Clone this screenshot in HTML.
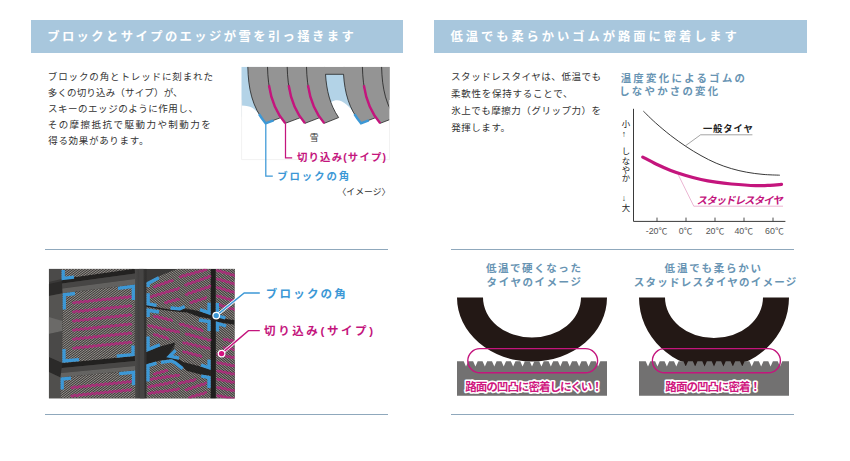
<!DOCTYPE html>
<html lang="ja">
<head>
<meta charset="utf-8">
<title>スタッドレスタイヤの特長</title>
<style>
html,body{margin:0;padding:0;background:#fff}
body{font-family:"Liberation Sans",sans-serif}
.page{position:relative;width:850px;height:461px;overflow:hidden;background:#fff}
.bar{position:absolute;top:20px;height:32.6px;background:#a8c7dd}
.rule{position:absolute;height:1px;background:#8fa8bc}
svg.art{position:absolute;left:0;top:0;display:block}
svg.art text{font-family:"Liberation Sans","Noto Sans CJK JP",sans-serif}
.tl{position:absolute;left:0;top:0;width:850px;height:461px}
.tl span{position:absolute;white-space:nowrap;line-height:1;color:transparent;overflow:hidden;font-family:"Liberation Sans",sans-serif}
.tl span.v{writing-mode:vertical-rl;white-space:normal;height:100px}
</style>
</head>
<body>
<div class="page">
<div class="bar" style="left:30.5px;width:372px"></div>
<div class="bar" style="left:434px;width:373px"></div>
<div class="rule" style="left:45.3px;width:342.3px;top:249px"></div>
<div class="rule" style="left:450.6px;width:343.4px;top:249px"></div>
<div class="rule" style="left:45.3px;width:342.3px;top:414px"></div>
<div class="rule" style="left:450.6px;width:343.4px;top:414px"></div>
<svg class="art" width="850" height="461" viewBox="0 0 850 461">
<clipPath id="tc"><rect x="241.3" y="66.8" width="148.5" height="92.8"/></clipPath>
<g clip-path="url(#tc)">
<rect x="241.3" y="66.8" width="30" height="50" fill="#b3d3e7"/>
<rect x="322" y="70" width="36" height="45" fill="#b3d3e7"/>
<path d="M241.3 105.6 C246 105.8 250.5 106.2 253 108.2 C255.5 110.2 257 112 259.5 114.6 L262 130 L241.3 130Z" fill="#fff"/>
<path d="M326 125 L331.5 101.8 C334 100.2 338 99.6 341.5 101.2 C345 102.8 348 105.6 350.6 108.6 L362 125Z" fill="#fff"/>
<path d="M247.8 66.8C248.3 88 251.8 107 265.6 123.3L280.94 117.57C270.73 102.6 267.94 85.56 267.5 66.8ZM267.5 66.8C268 88 271.5 107 285.3 123.3L300.64 117.57C290.43 102.6 287.64 85.56 287.2 66.8ZM287.2 66.8C287.7 88 291.2 107 305 123.3L319.94 117.57C309.73 102.6 306.94 85.56 306.5 66.8ZM306.5 66.8C307 88 310.5 107 324.3 123.3L338.64 117.57C328.43 102.6 325.64 85.56 325.2 66.8ZM343.2 66.8C343.7 88 347.2 107 361 123.3L375.84 117.57C365.63 102.6 362.84 85.56 362.4 66.8ZM362.4 66.8C362.9 88 366.4 107 380.2 123.3L395.04 117.57C384.83 102.6 382.04 85.56 381.6 66.8ZM381.6 66.8C382.1 88 385.6 107 399.4 123.3L414.44 117.57C404.23 102.6 401.44 85.56 401 66.8Z" fill="#949494"/>
<rect x="324" y="66.8" width="21" height="7.5" fill="#949494"/>
<path d="M247.8 66.8C248.3 88 251.8 107 265.6 123.3M267.5 66.8C268 88 271.5 107 285.3 123.3M287.2 66.8C287.7 88 291.2 107 305 123.3M306.5 66.8C307 88 310.5 107 324.3 123.3M325.52 74.3C326.53 90.12 329.81 104.62 338.64 117.57M343.52 74.3C344.68 92.5 348.85 108.95 361 123.3M362.4 66.8C362.9 88 366.4 107 380.2 123.3M381.6 66.8C382.1 88 385.6 107 399.4 123.3M265.6 123.3L280.94 117.57M285.3 123.3L300.64 117.57M305 123.3L319.94 117.57M324.3 123.3L338.64 117.57M361 123.3L375.84 117.57M380.2 123.3L395.04 117.57M399.4 123.3L414.44 117.57M325.52 74.3L343.52 74.3" fill="none" stroke="#1a1a1a" stroke-width="0.75"/>
<path d="M268.95 85.2C271.01 99.11 275.62 111.87 285.3 123.3M288.65 85.2C290.71 99.11 295.32 111.87 305 123.3M307.95 85.2C310.01 99.11 314.62 111.87 324.3 123.3M363.85 85.2C365.91 99.11 370.52 111.87 380.2 123.3" fill="none" stroke="#c4157d" stroke-width="2.4"/>
<path d="M259.08 114.2C260.95 117.32 263.11 120.35 265.6 123.3L273.58 120.32M354.48 114.2C356.35 117.32 358.51 120.35 361 123.3L368.72 120.32" fill="none" stroke="#3c98d6" stroke-width="2.5" stroke-linejoin="miter"/>
</g>
<path d="M241.6 100V159.6H389.5V100" fill="none" stroke="#ececec" stroke-width="0.7"/>
<path d="M265.8 123.3V176.2H272.8" fill="none" stroke="#3c98d6" stroke-width="1.25"/>
<path d="M285.5 123.3V157.8H292.2" fill="none" stroke="#c4157d" stroke-width="1.25"/>
<path d="M633.5 108.8V221.4H785.4" fill="none" stroke="#3a3a3a" stroke-width="1"/>
<path d="M657 217.6V221.4M686 217.6V221.4M715 217.6V221.4M744 217.6V221.4M773 217.6V221.4" fill="none" stroke="#3a3a3a" stroke-width="0.9"/>
<path d="M643.4 111.2C645.42 113.13 650.95 118.75 655.5 122.8C660.05 126.85 665.63 131.57 670.7 135.5C675.77 139.43 680.85 143.05 685.9 146.4C690.95 149.75 695.95 152.8 701 155.6C706.05 158.4 711.13 161.03 716.2 163.2C721.27 165.37 726.33 167.1 731.4 168.6C736.47 170.1 741.33 171.23 746.6 172.2C751.87 173.17 757.47 173.9 763 174.4C768.53 174.9 777 175.07 779.8 175.2" fill="none" stroke="#222" stroke-width="0.9"/>
<path d="M752.4 134.8H700.6L685.3 145.9" fill="none" stroke="#666" stroke-width="0.6"/>
<path d="M783 206.2H693.8L678.2 174.6" fill="none" stroke="#e6a3c8" stroke-width="0.8"/>
<path d="M642.8 157.1C645 158.25 651.35 161.78 656 164C660.65 166.22 665.87 168.53 670.7 170.4C675.53 172.27 679.95 173.68 685 175.2C690.05 176.72 695.83 178.33 701 179.5C706.17 180.67 710.93 181.45 716 182.2C721.07 182.95 724.78 183.43 731.4 184C738.02 184.57 749.27 185.38 755.7 185.6C762.13 185.82 765.7 185.5 770 185.3C774.3 185.1 779.58 184.55 781.5 184.4" fill="none" stroke="#c4157d" stroke-width="3.2" stroke-linecap="round"/>
<defs><clipPath id="pc"><rect x="48.8" y="268.8" width="186" height="129.7"/></clipPath><linearGradient id="pg" x1="0" y1="0" x2="1" y2="0"><stop offset="0" stop-color="#4a4948"/><stop offset="1" stop-color="#2f2e2d"/></linearGradient></defs>
<g clip-path="url(#pc)">
<rect x="48.8" y="268.8" width="186" height="129.7" fill="#3a3938"/>
<polygon points="48.8,268.8 61.5,268.8 61.5,279 48.8,282" fill="#4b4a49"/>
<polygon points="48.8,284 62.6,281 62.6,293.2 48.8,296" fill="#2c2b2a"/>
<polygon points="48.8,296 62.6,293.2 62.3,363 48.8,357" fill="#555452"/>
<polygon points="48.8,317 62.4,321 62.4,331 48.8,334" fill="#6b6a68"/>
<polygon points="48.8,334 62.4,331 62.3,363 48.8,357" fill="#4a4948"/>
<polygon points="48.8,357 62.3,363 60.5,377.4 48.8,372" fill="#2b2a29"/>
<polygon points="48.8,372 60.5,377.4 60.5,398.5 48.8,398.5" fill="#504f4d"/>
<polygon points="61.5,279 134.4,268.8 135,273.5 62,283.5" fill="#232221"/>
<polygon points="62,283.5 135,273.5 135,279 62.3,288.5" fill="#474645"/>
<polygon points="62.3,288.5 135,279 135,284.4 62.6,293.2" fill="#62615f"/>
<polygon points="62.3,362.9 134.6,356.1 135,361 61.8,368" fill="#222120"/>
<polygon points="61.8,368 135,361 135,366 61,373" fill="#484746"/>
<polygon points="61,373 135,366 135.2,370.3 60.5,377.4" fill="#646361"/>
<rect x="135" y="268.8" width="11.6" height="130" fill="url(#pg)"/>
<polygon points="139,268.8 143.5,268.8 144.5,398.5 140,398.5" fill="#464544"/>
<rect x="210.6" y="268.8" width="5.2" height="130" fill="#1f1e1d"/>
<polygon points="146.5,305 210.6,312 234.8,319 234.8,329 210.6,320 146.5,308.5" fill="#222120"/>
<polygon points="146.5,349.7 175.3,342.4 167.6,356.8 210.6,368 210.6,377 146.5,365.6" fill="#242322"/>
<clipPath id="hc1"><polygon points="61.5,268.8 134.4,268.8 61.5,278.9" fill="#000"/><polygon points="62.6,293.2 135,284.4 134.6,356.1 62.3,362.9" fill="#000"/><polygon points="60.5,377.4 135.2,370.3 135.2,398.5 60.5,398.5" fill="#000"/></clipPath>
<polygon points="61.5,268.8 134.4,268.8 61.5,278.9" fill="#413f3d"/>
<polygon points="62.6,293.2 135,284.4 134.6,356.1 62.3,362.9" fill="#413f3d"/>
<polygon points="60.5,377.4 135.2,370.3 135.2,398.5 60.5,398.5" fill="#413f3d"/>
<g clip-path="url(#hc1)"><path d="M-36.02 305.37L163.63 154.92M-34.94 306.81L164.72 156.36M-33.86 308.25L165.8 157.8M-32.77 309.69L166.88 159.23M-31.69 311.12L167.97 160.67M-30.61 312.56L169.05 162.11M-29.53 314L170.13 163.55M-28.44 315.44L171.22 164.98M-27.36 316.87L172.3 166.42M-26.28 318.31L173.38 167.86M-25.19 319.75L174.47 169.3M-24.11 321.19L175.55 170.73M-23.03 322.62L176.63 172.17M-21.94 324.06L177.72 173.61M-20.86 325.5L178.8 175.05M-19.78 326.94L179.88 176.48M-18.69 328.37L180.97 177.92M-17.61 329.81L182.05 179.36M-16.53 331.25L183.13 180.8M-15.44 332.69L184.22 182.23M-14.36 334.12L185.3 183.67M-13.28 335.56L186.38 185.11M-12.19 337L187.47 186.55M-11.11 338.44L188.55 187.98M-10.03 339.87L189.63 189.42M-8.94 341.31L190.72 190.86M-7.86 342.75L191.8 192.3M-6.78 344.19L192.88 193.73M-5.69 345.62L193.97 195.17M-4.61 347.06L195.05 196.61M-3.53 348.5L196.13 198.05M-2.44 349.94L197.22 199.48M-1.36 351.38L198.3 200.92M-0.28 352.81L199.38 202.36M0.81 354.25L200.47 203.8M1.89 355.69L201.55 205.23M2.97 357.13L202.63 206.67M4.06 358.56L203.72 208.11M5.14 360L204.8 209.55M6.22 361.44L205.88 210.98M7.31 362.88L206.96 212.42M8.39 364.31L208.05 213.86M9.47 365.75L209.13 215.3M10.56 367.19L210.21 216.73M11.64 368.63L211.3 218.17M12.72 370.06L212.38 219.61M13.81 371.5L213.46 221.05M14.89 372.94L214.55 222.48M15.97 374.38L215.63 223.92M17.06 375.81L216.71 225.36M18.14 377.25L217.8 226.8M19.22 378.69L218.88 228.23M20.31 380.13L219.96 229.67M21.39 381.56L221.05 231.11M22.47 383L222.13 232.55M23.56 384.44L223.21 233.98M24.64 385.88L224.3 235.42M25.72 387.31L225.38 236.86M26.8 388.75L226.46 238.3M27.89 390.19L227.55 239.74M28.97 391.63L228.63 241.17M30.05 393.06L229.71 242.61M31.14 394.5L230.8 244.05M32.22 395.94L231.88 245.49M33.3 397.38L232.96 246.92M34.39 398.81L234.05 248.36M35.47 400.25L235.13 249.8M36.55 401.69L236.21 251.24M37.64 403.13L237.3 252.67M38.72 404.56L238.38 254.11M39.8 406L239.46 255.55M40.89 407.44L240.55 256.99M41.97 408.88L241.63 258.42M43.05 410.31L242.71 259.86M44.14 411.75L243.8 261.3M45.22 413.19L244.88 262.74M46.3 414.63L245.96 264.17M47.39 416.06L247.05 265.61M48.47 417.5L248.13 267.05M49.55 418.94L249.21 268.49M50.64 420.38L250.3 269.92M51.72 421.81L251.38 271.36M52.8 423.25L252.46 272.8M53.89 424.69L253.55 274.24M54.97 426.13L254.63 275.67M56.05 427.56L255.71 277.11M57.14 429L256.8 278.55M58.22 430.44L257.88 279.99M59.3 431.88L258.96 281.42M60.39 433.32L260.04 282.86M61.47 434.75L261.13 284.3M62.55 436.19L262.21 285.74M63.64 437.63L263.29 287.17M64.72 439.07L264.38 288.61M65.8 440.5L265.46 290.05M66.89 441.94L266.54 291.49M67.97 443.38L267.63 292.92M69.05 444.82L268.71 294.36M70.14 446.25L269.79 295.8M71.22 447.69L270.88 297.24M72.3 449.13L271.96 298.67M73.39 450.57L273.04 300.11M74.47 452L274.13 301.55M75.55 453.44L275.21 302.99M76.64 454.88L276.29 304.42M77.72 456.32L277.38 305.86M78.8 457.75L278.46 307.3M79.88 459.19L279.54 308.74M80.97 460.63L280.63 310.17M82.05 462.07L281.71 311.61M83.13 463.5L282.79 313.05M84.22 464.94L283.88 314.49M85.3 466.38L284.96 315.92M86.38 467.82L286.04 317.36M87.47 469.25L287.13 318.8M88.55 470.69L288.21 320.24M89.63 472.13L289.29 321.68M90.72 473.57L290.38 323.11M91.8 475L291.46 324.55M92.88 476.44L292.54 325.99M93.97 477.88L293.63 327.43M95.05 479.32L294.71 328.86M96.13 480.75L295.79 330.3M97.22 482.19L296.88 331.74M98.3 483.63L297.96 333.18M99.38 485.07L299.04 334.61M100.47 486.5L300.13 336.05M101.55 487.94L301.21 337.49M102.63 489.38L302.29 338.93M103.72 490.82L303.38 340.36M104.8 492.25L304.46 341.8M105.88 493.69L305.54 343.24M106.97 495.13L306.63 344.68M108.05 496.57L307.71 346.11M109.13 498L308.79 347.55M110.22 499.44L309.88 348.99M111.3 500.88L310.96 350.43M112.38 502.32L312.04 351.86M113.47 503.75L313.13 353.3M114.55 505.19L314.21 354.74M115.63 506.63L315.29 356.18M116.72 508.07L316.37 357.61M117.8 509.5L317.46 359.05M118.88 510.94L318.54 360.49M119.97 512.38L319.62 361.93" fill="none" stroke="#a5a19c" stroke-width="0.86"/></g>
<clipPath id="hc2"><polygon points="146.5,282.6 158.8,276.2 177.6,268.8 210.6,268.8 210.6,314.8 198.8,310.9 185.3,307.9 180,310.3 170.6,309.5 163.5,308.5 146.5,305" fill="#000"/><polygon points="146.5,306.8 165,310.2 180,312 187,312.4 198.8,316.8 210.6,318.8 210.6,369.6 200.7,366.6 192,364.3 183.4,362.1 179,359.4 167.1,356.7 174,349.5 175.2,342.6 159.5,346.6 146.5,351.8" fill="#000"/><polygon points="146.5,364.3 160.6,360.5 171.4,359.2 175.8,361.4 183.4,367.5 186.6,370.8 200.7,374.4 210.6,375.8 210.6,398.5 146.5,398.5" fill="#000"/><polygon points="215.8,268.8 234.8,268.8 234.8,320.3 215.8,317.2" fill="#000"/><polygon points="215.9,321.7 234.8,324.7 234.8,398.5 215.9,398.5" fill="#000"/></clipPath>
<polygon points="146.5,282.6 158.8,276.2 177.6,268.8 210.6,268.8 210.6,314.8 198.8,310.9 185.3,307.9 180,310.3 170.6,309.5 163.5,308.5 146.5,305" fill="#413f3d"/>
<polygon points="146.5,306.8 165,310.2 180,312 187,312.4 198.8,316.8 210.6,318.8 210.6,369.6 200.7,366.6 192,364.3 183.4,362.1 179,359.4 167.1,356.7 174,349.5 175.2,342.6 159.5,346.6 146.5,351.8" fill="#413f3d"/>
<polygon points="146.5,364.3 160.6,360.5 171.4,359.2 175.8,361.4 183.4,367.5 186.6,370.8 200.7,374.4 210.6,375.8 210.6,398.5 146.5,398.5" fill="#413f3d"/>
<polygon points="215.8,268.8 234.8,268.8 234.8,320.3 215.8,317.2" fill="#413f3d"/>
<polygon points="215.9,321.7 234.8,324.7 234.8,398.5 215.9,398.5" fill="#413f3d"/>
<g clip-path="url(#hc2)"><path d="M129.35 154.02L320.86 314.72M128.19 155.4L319.7 316.1M127.04 156.78L318.55 317.48M125.88 158.16L317.39 318.86M124.72 159.54L316.23 320.23M123.56 160.92L315.08 321.61M122.41 162.3L313.92 322.99M121.25 163.67L312.76 324.37M120.09 165.05L311.6 325.75M118.94 166.43L310.45 327.13M117.78 167.81L309.29 328.51M116.62 169.19L308.13 329.89M115.47 170.57L306.98 331.27M114.31 171.95L305.82 332.64M113.15 173.33L304.66 334.02M111.99 174.71L303.51 335.4M110.84 176.08L302.35 336.78M109.68 177.46L301.19 338.16M108.52 178.84L300.03 339.54M107.37 180.22L298.88 340.92M106.21 181.6L297.72 342.3M105.05 182.98L296.56 343.68M103.9 184.36L295.41 345.05M102.74 185.74L294.25 346.43M101.58 187.12L293.09 347.81M100.42 188.49L291.94 349.19M99.27 189.87L290.78 350.57M98.11 191.25L289.62 351.95M96.95 192.63L288.46 353.33M95.8 194.01L287.31 354.71M94.64 195.39L286.15 356.09M93.48 196.77L284.99 357.46M92.33 198.15L283.84 358.84M91.17 199.53L282.68 360.22M90.01 200.9L281.52 361.6M88.85 202.28L280.37 362.98M87.7 203.66L279.21 364.36M86.54 205.04L278.05 365.74M85.38 206.42L276.89 367.12M84.23 207.8L275.74 368.5M83.07 209.18L274.58 369.87M81.91 210.56L273.42 371.25M80.75 211.94L272.27 372.63M79.6 213.31L271.11 374.01M78.44 214.69L269.95 375.39M77.28 216.07L268.8 376.77M76.13 217.45L267.64 378.15M74.97 218.83L266.48 379.53M73.81 220.21L265.32 380.91M72.66 221.59L264.17 382.28M71.5 222.97L263.01 383.66M70.34 224.35L261.85 385.04M69.18 225.72L260.7 386.42M68.03 227.1L259.54 387.8M66.87 228.48L258.38 389.18M65.71 229.86L257.22 390.56M64.56 231.24L256.07 391.94M63.4 232.62L254.91 393.32M62.24 234L253.75 394.69M61.09 235.38L252.6 396.07M59.93 236.75L251.44 397.45M58.77 238.13L250.28 398.83M57.61 239.51L249.13 400.21M56.46 240.89L247.97 401.59M55.3 242.27L246.81 402.97M54.14 243.65L245.65 404.35M52.99 245.03L244.5 405.73M51.83 246.41L243.34 407.1M50.67 247.79L242.18 408.48M49.52 249.16L241.03 409.86M48.36 250.54L239.87 411.24M47.2 251.92L238.71 412.62M46.04 253.3L237.56 414M44.89 254.68L236.4 415.38M43.73 256.06L235.24 416.76M42.57 257.44L234.08 418.14M41.42 258.82L232.93 419.51M40.26 260.2L231.77 420.89M39.1 261.57L230.61 422.27M37.95 262.95L229.46 423.65M36.79 264.33L228.3 425.03M35.63 265.71L227.14 426.41M34.47 267.09L225.99 427.79M33.32 268.47L224.83 429.17M32.16 269.85L223.67 430.55M31 271.23L222.51 431.92M29.85 272.61L221.36 433.3M28.69 273.98L220.2 434.68M27.53 275.36L219.04 436.06M26.38 276.74L217.89 437.44M25.22 278.12L216.73 438.82M24.06 279.5L215.57 440.2M22.9 280.88L214.42 441.58M21.75 282.26L213.26 442.95M20.59 283.64L212.1 444.33M19.43 285.02L210.94 445.71M18.28 286.39L209.79 447.09M17.12 287.77L208.63 448.47M15.96 289.15L207.47 449.85M14.8 290.53L206.32 451.23M13.65 291.91L205.16 452.61M12.49 293.29L204 453.99M11.33 294.67L202.85 455.36M10.18 296.05L201.69 456.74M9.02 297.43L200.53 458.12M7.86 298.8L199.37 459.5M6.71 300.18L198.22 460.88M5.55 301.56L197.06 462.26M4.39 302.94L195.9 463.64M3.23 304.32L194.75 465.02M2.08 305.7L193.59 466.4M0.92 307.08L192.43 467.77M-0.24 308.46L191.27 469.15M-1.39 309.84L190.12 470.53M-2.55 311.21L188.96 471.91M-3.71 312.59L187.8 473.29M-4.86 313.97L186.65 474.67M-6.02 315.35L185.49 476.05M-7.18 316.73L184.33 477.43M-8.34 318.11L183.18 478.81M-9.49 319.49L182.02 480.18M-10.65 320.87L180.86 481.56M-11.81 322.25L179.7 482.94M-12.96 323.62L178.55 484.32M-14.12 325L177.39 485.7M-15.28 326.38L176.23 487.08M-16.43 327.76L175.08 488.46M-17.59 329.14L173.92 489.84M-18.75 330.52L172.76 491.22M-19.91 331.9L171.61 492.59M-21.06 333.28L170.45 493.97M-22.22 334.66L169.29 495.35M-23.38 336.03L168.13 496.73M-24.53 337.41L166.98 498.11M-25.69 338.79L165.82 499.49M-26.85 340.17L164.66 500.87M-28 341.55L163.51 502.25M-29.16 342.93L162.35 503.63M-30.32 344.31L161.19 505M-31.48 345.69L160.04 506.38M-32.63 347.07L158.88 507.76M-33.79 348.44L157.72 509.14M-34.95 349.82L156.56 510.52M-36.1 351.2L155.41 511.9M-37.26 352.58L154.25 513.28" fill="none" stroke="#a5a19c" stroke-width="0.86"/></g>
<path d="M73.3 302.7L74.47 303.13L75.52 302.44L76.57 301.81L77.74 302.29L78.9 302.67L79.95 301.93L81.01 301.35L82.19 301.87L83.34 302.2L84.38 301.43L85.45 300.9L86.63 301.46L87.78 301.72L88.82 300.92L89.89 300.45L91.07 301.04L92.22 301.25L93.25 300.41L94.33 300.01L95.52 300.63L96.65 300.77L97.68 299.9L98.77 299.57L99.96 300.21L101.09 300.28L102.12 299.4L103.21 299.13L104.4 299.79L105.52 299.79L106.55 298.9L107.65 298.7L108.84 299.37L109.96 299.3L110.99 298.4L112.1 298.27L113.29 298.94L114.39 298.8L115.42 297.91L116.54 297.85L117.73 298.51L118.83 298.3L119.86 297.41L120.98 297.42L122.17 298.08L123.26 297.8L124.29 296.92L125.42 297L126.61 297.64L127.7 297.3L128.73 296.44L129.87 296.58L131.05 297.2M73.3 311.8L74.47 312.23L75.52 311.54L76.57 310.91L77.74 311.39L78.9 311.77L79.95 311.03L81.01 310.45L82.19 310.97L83.34 311.3L84.38 310.53L85.45 310L86.63 310.56L87.78 310.82L88.82 310.02L89.89 309.55L91.07 310.14L92.22 310.35L93.25 309.51L94.33 309.11L95.52 309.73L96.65 309.87L97.68 309L98.77 308.67L99.96 309.31L101.09 309.38L102.12 308.5L103.21 308.23L104.4 308.89L105.52 308.89L106.55 308L107.65 307.8L108.84 308.47L109.96 308.4L110.99 307.5L112.1 307.37L113.29 308.04L114.39 307.9L115.42 307.01L116.54 306.95L117.73 307.61L118.83 307.4L119.86 306.51L120.98 306.52L122.17 307.18L123.26 306.9L124.29 306.02L125.42 306.1L126.61 306.74L127.7 306.4L128.73 305.54L129.87 305.68L131.05 306.3M73.3 320.9L74.47 321.33L75.52 320.64L76.57 320.01L77.74 320.49L78.9 320.87L79.95 320.13L81.01 319.55L82.19 320.07L83.34 320.4L84.38 319.63L85.45 319.1L86.63 319.66L87.78 319.92L88.82 319.12L89.89 318.65L91.07 319.24L92.22 319.45L93.25 318.61L94.33 318.21L95.52 318.83L96.65 318.97L97.68 318.1L98.77 317.77L99.96 318.41L101.09 318.48L102.12 317.6L103.21 317.33L104.4 317.99L105.52 317.99L106.55 317.1L107.65 316.9L108.84 317.57L109.96 317.5L110.99 316.6L112.1 316.47L113.29 317.14L114.39 317L115.42 316.11L116.54 316.05L117.73 316.71L118.83 316.5L119.86 315.61L120.98 315.62L122.17 316.28L123.26 316L124.29 315.12L125.42 315.2L126.61 315.84L127.7 315.5L128.73 314.64L129.87 314.78L131.05 315.4M73.3 330L74.47 330.43L75.52 329.74L76.57 329.11L77.74 329.59L78.9 329.97L79.95 329.23L81.01 328.65L82.19 329.17L83.34 329.5L84.38 328.73L85.45 328.2L86.63 328.76L87.78 329.02L88.82 328.22L89.89 327.75L91.07 328.34L92.22 328.55L93.25 327.71L94.33 327.31L95.52 327.93L96.65 328.07L97.68 327.2L98.77 326.87L99.96 327.51L101.09 327.58L102.12 326.7L103.21 326.43L104.4 327.09L105.52 327.09L106.55 326.2L107.65 326L108.84 326.67L109.96 326.6L110.99 325.7L112.1 325.57L113.29 326.24L114.39 326.1L115.42 325.21L116.54 325.15L117.73 325.81L118.83 325.6L119.86 324.71L120.98 324.72L122.17 325.38L123.26 325.1L124.29 324.22L125.42 324.3L126.61 324.94L127.7 324.6L128.73 323.74L129.87 323.88L131.05 324.5M73.3 339.1L74.47 339.53L75.52 338.84L76.57 338.21L77.74 338.69L78.9 339.07L79.95 338.33L81.01 337.75L82.19 338.27L83.34 338.6L84.38 337.83L85.45 337.3L86.63 337.86L87.78 338.12L88.82 337.32L89.89 336.85L91.07 337.44L92.22 337.65L93.25 336.81L94.33 336.41L95.52 337.03L96.65 337.17L97.68 336.3L98.77 335.97L99.96 336.61L101.09 336.68L102.12 335.8L103.21 335.53L104.4 336.19L105.52 336.19L106.55 335.3L107.65 335.1L108.84 335.77L109.96 335.7L110.99 334.8L112.1 334.67L113.29 335.34L114.39 335.2L115.42 334.31L116.54 334.25L117.73 334.91L118.83 334.7L119.86 333.81L120.98 333.82L122.17 334.48L123.26 334.2L124.29 333.32L125.42 333.4L126.61 334.04L127.7 333.7L128.73 332.84L129.87 332.98L131.05 333.6M73.3 348.2L74.47 348.63L75.52 347.94L76.57 347.31L77.74 347.79L78.9 348.17L79.95 347.43L81.01 346.85L82.19 347.37L83.34 347.7L84.38 346.93L85.45 346.4L86.63 346.96L87.78 347.22L88.82 346.42L89.89 345.95L91.07 346.54L92.22 346.75L93.25 345.91L94.33 345.51L95.52 346.13L96.65 346.27L97.68 345.4L98.77 345.07L99.96 345.71L101.09 345.78L102.12 344.9L103.21 344.63L104.4 345.29L105.52 345.29L106.55 344.4L107.65 344.2L108.84 344.87L109.96 344.8L110.99 343.9L112.1 343.77L113.29 344.44L114.39 344.3L115.42 343.41L116.54 343.35L117.73 344.01L118.83 343.8L119.86 342.91L120.98 342.92L122.17 343.58L123.26 343.3L124.29 342.42L125.42 342.5L126.61 343.14L127.7 342.8L128.73 341.94L129.87 342.08L131.05 342.7M71.6 387.6L72.76 388.04L73.8 387.37L74.84 386.72L76 387.17L77.16 387.59L78.2 386.91L79.24 386.28L80.4 386.75L81.56 387.15L82.6 386.45L83.64 385.83L84.81 386.32L85.95 386.7L86.99 385.98L88.05 385.39L89.21 385.89L90.35 386.25L91.39 385.52L92.45 384.95L93.61 385.46L94.75 385.81L95.79 385.06L96.85 384.51L98.01 385.04L99.15 385.36L100.19 384.6L101.25 384.07L102.41 384.61L103.55 384.91L104.59 384.14L105.65 383.63L106.81 384.18L107.95 384.46L108.99 383.68L110.05 383.19L111.22 383.76L112.35 384.01L113.38 383.21L114.45 382.75L115.62 383.33L116.75 383.56L117.78 382.75L118.85 382.31L120.02 382.9L121.15 383.11L122.18 382.29L123.25 381.87L124.42 382.47L125.55 382.66L126.58 381.83L127.65 381.43L128.82 382.04L129.95 382.21L130.98 381.37M71.6 395.8L72.76 396.24L73.8 395.57L74.84 394.92L76 395.37L77.16 395.79L78.2 395.11L79.24 394.48L80.4 394.95L81.56 395.35L82.6 394.65L83.64 394.03L84.81 394.52L85.95 394.9L86.99 394.18L88.05 393.59L89.21 394.09L90.35 394.45L91.39 393.72L92.45 393.15L93.61 393.66L94.75 394.01L95.79 393.26L96.85 392.71L98.01 393.24L99.15 393.56L100.19 392.8L101.25 392.27L102.41 392.81L103.55 393.11L104.59 392.34L105.65 391.83L106.81 392.38L107.95 392.66L108.99 391.88L110.05 391.39L111.22 391.96L112.35 392.21L113.38 391.41L114.45 390.95L115.62 391.53L116.75 391.76L117.78 390.95L118.85 390.51L120.02 391.1L121.15 391.31L122.18 390.49L123.25 390.07L124.42 390.67L125.55 390.86L126.58 390.03L127.65 389.63L128.82 390.24L129.95 390.41L130.98 389.57M180 276.8L181.22 277.03L182.15 276.18L183.09 275.38L184.33 275.67L185.54 275.85L186.45 274.94L187.41 274.21L188.66 274.55L189.85 274.65L190.75 273.7L191.73 273.04L193 273.42L194.17 273.45L195.05 272.46L196.05 271.88L197.33 272.29L198.48 272.25L199.36 271.23L200.38 270.72L201.66 271.16L202.78 271.03L203.66 269.99L204.7 269.57L205.99 270.02M154.1 286.8L155.36 286.93L156.23 285.97L157.15 285.14L158.45 285.39L159.66 285.38L160.49 284.32L161.47 283.65L162.8 283.98L163.95 283.8L164.76 282.68L165.8 282.19L167.14 282.56L168.22 282.2L169.03 281.06L170.13 280.75L171.48 281.11L172.5 280.57M185.3 285L186.56 285.14L187.44 284.19L188.37 283.37L189.68 283.64L190.88 283.62L191.73 282.56L192.72 281.92L194.05 282.27L195.19 282.07L196.02 280.95L197.07 280.49L198.42 280.88L199.49 280.49L200.32 279.36L201.44 279.1L202.78 279.46L203.79 278.88L204.62 277.79L205.81 277.72L207.12 278.02L208.07 277.26L208.94 276.26L210.19 276.36M150.6 296.8L151.84 297.01L152.76 296.12L153.7 295.32L154.97 295.61L156.17 295.72L157.07 294.75L158.04 294.06L159.33 294.43L160.5 294.41L161.38 293.38L162.39 292.82L163.69 293.23L164.83 293.09L165.7 292.03L166.75 291.59L168.05 292.03L169.15 291.76L170.01 290.68L171.1 290.38L172.41 290.82L173.47 290.42L174.33 289.34L175.46 289.18L176.77 289.6L177.79 289.06L178.66 288.02M185.9 294.4L187.13 294.57L188.01 293.69L188.9 292.83L190.14 293.05L191.35 293.18L192.22 292.26L193.12 291.45L194.38 291.69L195.58 291.79L196.44 290.83L197.35 290.06L198.61 290.34L199.8 290.39L200.65 289.4L201.58 288.68L202.85 288.98L204.03 288.99L204.86 287.98L205.81 287.3L207.09 287.62L208.25 287.58L209.08 286.55L210.04 285.92M165.3 302.6L166.56 302.84L167.53 301.92L168.54 301.21L169.85 301.62L171.05 301.62L171.98 300.58L173.06 300.13L174.39 300.61L175.52 300.35L176.44 299.27L177.6 299.09L178.92 299.57M190.6 302.6L191.85 302.79L192.77 301.86L193.72 301.08L195.01 301.39L196.22 301.42L197.1 300.4L198.1 299.77L199.42 300.16L200.57 300.03L201.44 298.94L202.5 298.5L203.82 298.93L204.92 298.6L205.78 297.5M154.1 316.2L155.08 316.99L156.33 316.66L157.54 316.44L158.5 317.33L159.51 318L160.77 317.58L161.96 317.49L162.9 318.46L163.94 318.99L165.22 318.5L166.37 318.56L167.3 319.58L168.38 319.95L169.67 319.44L170.78 319.66L171.71 320.69M148.6 325.6L149.56 326.37L150.76 326.06L151.95 325.76L152.91 326.54L153.88 327.3L155.07 326.98L156.27 326.69L157.22 327.48L158.19 328.23L159.39 327.9L160.58 327.62L161.54 328.42L162.51 329.15L163.71 328.81L164.89 328.55L165.85 329.35L166.82 330.08L168.02 329.73L169.21 329.48L170.16 330.29L171.13 331.01L172.34 330.65L173.52 330.4L174.47 331.23L175.45 331.94L176.66 331.57L177.84 331.33L178.78 332.17M180 323.8L180.91 324.64L182.14 324.4L183.35 324.2L184.26 325.07L185.18 325.87L186.41 325.61L187.62 325.44L188.51 326.34L189.45 327.11L190.69 326.82L191.88 326.68L192.77 327.61L193.72 328.34L194.97 328.02L196.15 327.93L197.03 328.88L197.99 329.57L199.24 329.23L200.41 329.17L201.29 330.15L202.25 330.8M154.1 334.4L155.03 335.24L156.28 334.99L157.51 334.82L158.41 335.75L159.37 336.49L160.65 336.16L161.84 336.1L162.73 337.1L163.72 337.73L165.01 337.34L166.17 337.4L167.04 338.44L168.07 338.95M185.9 333.8L186.86 334.63L188.13 334.33L189.35 334.16L190.28 335.11L191.29 335.78L192.58 335.38L193.76 335.39L194.67 336.42L195.72 336.91L197.03 336.45L198.16 336.64L199.06 337.71L200.16 338.01L201.47 337.53L202.55 337.91L203.45 338.97L204.61 339.09L205.91 338.64L206.94 339.21L207.86 340.21L209.06 340.15L210.34 339.78M183.5 342.6L184.46 343.38L185.66 343.08L186.86 342.8L187.81 343.6L188.77 344.36L189.98 344.04L191.18 343.79L192.12 344.61L193.09 345.35L194.3 345.01L195.49 344.77L196.44 345.61L197.41 346.33L198.62 345.97L199.81 345.76L200.75 346.62L201.73 347.31L202.95 346.93L204.12 346.74L205.06 347.62L206.04 348.29L207.27 347.89L208.44 347.73L209.37 348.62M183.5 351.6L184.47 352.42L185.73 352.11L186.95 351.94L187.89 352.88L188.9 353.54L190.19 353.13L191.37 353.13L192.28 354.15L193.34 354.64L194.64 354.17L195.78 354.35L196.68 355.41L197.78 355.71L199.09 355.22L200.18 355.59L201.08 356.64M154.1 373.9L155.33 374.14L156.26 373.28L157.21 372.5L158.45 372.8L159.66 372.97L160.57 372.05L161.54 371.34L162.8 371.7L163.99 371.79L164.89 370.82L165.88 370.19L167.15 370.59M150.6 379.2L151.81 379.58L152.85 378.81L153.91 378.17L155.13 378.67L156.32 378.9L157.34 378.03L158.42 377.55L159.66 378.13L160.82 378.2L161.84 377.27L162.94 376.95L164.19 377.58L165.32 377.47L166.34 376.51L167.47 376.38L168.71 377.01L169.82 376.72L170.84 375.78L171.99 375.83L173.23 376.41L174.32 375.96L175.34 375.08L176.52 375.29L177.75 375.8L178.81 375.18M148.8 386.8L150 387.14L150.99 386.36L152 385.65L153.21 386.04L154.4 386.31L155.38 385.49L156.4 384.84L157.62 385.28L158.8 385.49L159.77 384.61L160.8 384.03L162.03 384.52L163.19 384.65L164.16 383.74L165.21 383.24L166.44 383.76L167.59 383.81L168.55 382.87L169.61 382.45L170.85 382.99L171.98 382.97L172.94 382L174.02 381.66M178.8 383.3L180.01 383.6L180.99 382.8L181.99 382.06L183.22 382.44L184.41 382.66L185.38 381.79L186.39 381.14L187.63 381.58L188.81 381.71L189.76 380.78L190.79 380.23L192.05 380.72L193.2 380.75L194.15 379.78L195.2 379.33M148.8 393.3L149.99 393.69L151.02 392.96L152.06 392.3L153.25 392.76L154.43 393.08L155.45 392.29L156.51 391.7L157.71 392.22L158.87 392.46L159.89 391.62L160.95 391.12L162.16 391.67L163.31 391.83L164.32 390.95L165.4 390.53L166.61 391.13L167.75 391.19L168.76 390.28L169.85 389.96L171.07 390.58L172.19 390.55L173.2 389.62L174.3 389.39L175.52 390.02L176.63 389.9L177.64 388.96L178.75 388.83M185.9 389.8L187.12 389.98L188 389.11L188.89 388.25L190.12 388.45L191.33 388.61L192.21 387.72L193.1 386.88L194.33 387.1L195.54 387.24L196.41 386.33L197.31 385.52L198.55 385.76L199.75 385.87L200.61 384.94L201.52 384.15L202.77 384.41L203.96 384.5L204.82 383.55L205.73 382.79M189.4 397.4L190.65 397.61L191.58 396.71L192.55 395.94L193.84 396.28L195.04 396.34L195.94 395.33L196.96 394.73L198.27 395.15L199.43 395.03L200.31 393.96L201.38 393.54L202.7 394L203.8 393.69L204.68 392.61L205.81 392.39M217.2 270.3L218.14 271.16L219.42 270.89L220.66 270.78L221.56 271.77L222.55 272.45L223.86 272.07L225.04 272.15L225.92 273.23L226.97 273.71L228.3 273.27L229.41 273.56L230.28 274.67L231.4 274.93L232.73 274.5L233.78 275L234.66 276.07M217.2 278.8L218.14 279.66L219.42 279.39L220.66 279.28L221.56 280.27L222.55 280.95L223.86 280.57L225.04 280.65L225.92 281.73L226.97 282.21L228.3 281.77L229.41 282.06L230.28 283.17L231.4 283.43L232.73 283L233.78 283.5L234.66 284.57M217.2 287.3L218.14 288.16L219.42 287.89L220.66 287.78L221.56 288.77L222.55 289.45L223.86 289.07L225.04 289.15L225.92 290.23L226.97 290.71L228.3 290.27L229.41 290.56L230.28 291.67L231.4 291.93L232.73 291.5L233.78 292L234.66 293.07M217.2 295.8L218.14 296.66L219.42 296.39L220.66 296.28L221.56 297.27L222.55 297.95L223.86 297.57L225.04 297.65L225.92 298.73L226.97 299.21L228.3 298.77L229.41 299.06L230.28 300.17L231.4 300.43L232.73 300L233.78 300.5L234.66 301.57M217.2 304.3L218.14 305.16L219.42 304.89L220.66 304.78L221.56 305.77L222.55 306.45L223.86 306.07L225.04 306.15L225.92 307.23L226.97 307.71L228.3 307.27L229.41 307.56L230.28 308.67L231.4 308.93L232.73 308.5L233.78 309L234.66 310.07M217.6 395.6L218.64 396.37L219.92 395.96L221.14 395.79L222.14 396.74L223.24 397.24L224.54 396.7L225.71 396.82L226.69 397.85L227.85 398.03L229.16 397.48L230.26 397.92L231.26 398.9L232.48 398.78L233.76 398.34L234.81 399.06M217.6 387.35L218.64 388.12L219.92 387.71L221.14 387.54L222.14 388.49L223.24 388.99L224.54 388.45L225.71 388.57L226.69 389.6L227.85 389.78L229.16 389.23L230.26 389.67L231.26 390.65L232.48 390.53L233.76 390.09L234.81 390.81M217.6 379.1L218.64 379.87L219.92 379.46L221.14 379.29L222.14 380.24L223.24 380.74L224.54 380.2L225.71 380.32L226.69 381.35L227.85 381.53L229.16 380.98L230.26 381.42L231.26 382.4L232.48 382.28L233.76 381.84L234.81 382.56M217.6 370.85L218.64 371.62L219.92 371.21L221.14 371.04L222.14 371.99L223.24 372.49L224.54 371.95L225.71 372.07L226.69 373.1L227.85 373.28L229.16 372.73L230.26 373.17L231.26 374.15L232.48 374.03L233.76 373.59L234.81 374.31M217.6 362.6L218.64 363.37L219.92 362.96L221.14 362.79L222.14 363.74L223.24 364.24L224.54 363.7L225.71 363.82L226.69 364.85L227.85 365.03L229.16 364.48L230.26 364.92L231.26 365.9L232.48 365.78L233.76 365.34L234.81 366.06M217.6 354.35L218.64 355.12L219.92 354.71L221.14 354.54L222.14 355.49L223.24 355.99L224.54 355.45L225.71 355.57L226.69 356.6L227.85 356.78L229.16 356.23L230.26 356.67L231.26 357.65L232.48 357.53L233.76 357.09L234.81 357.81M224 347.4L224.97 348.16L226.16 347.84L227.35 347.52L228.32 348.29L229.29 349.04L230.48 348.71L231.67 348.4L232.64 349.17L233.61 349.92L234.8 349.58M224 339.15L224.97 339.91L226.16 339.59L227.35 339.27L228.32 340.04L229.29 340.79L230.48 340.46L231.67 340.15L232.64 340.92L233.61 341.67L234.8 341.33" fill="none" stroke="#ba2080" stroke-width="2.5" stroke-linecap="round" opacity="0.74"/>
<path d="M63.2 270V278.4L74 277.2M64.3 309.5V294.8L75 293.5M118 288.3L133.3 286.4V300M64 349V361L79 359.6M133 345.5V354.6L116.7 356.2M62.2 389.5V379L71 378.2M119.2 373.7L133.5 372.3V385.2M148.2 287V283.2L158.8 277.8M148.2 293.2V303.8L156.5 305.3M170.6 308L179.8 308.8L184.7 306.4M200 309.6L209 312.8V302.8M148.2 317V310.3L159 312M199 320L209 321.6V331M148.1 336.5V349.6L159.8 344.8M175.6 350.4L169.6 356.2L179 358.2M201 365L209 367.7V359.5M148 381.5V365.6L156.5 363.2M161 362.4L171.4 360.9L175.4 363L182.6 368.6M201.2 376L209 377.6V388M217.4 303V315.8L225.4 318M217.5 331.5V323.5L226.2 326" fill="none" stroke="#3c98d6" stroke-width="3.3" stroke-linejoin="miter"/>
</g>
<path d="M216.2 315.6L244.2 293" fill="none" stroke="#fff" stroke-width="3"/>
<path d="M221.6 353.6L248.4 330.6" fill="none" stroke="#fff" stroke-width="3"/>
<rect x="234.8" y="280" width="20" height="80" fill="#fff"/>
<path d="M216.2 315.6L244.2 293H259.8" fill="none" stroke="#3c98d6" stroke-width="1.45"/>
<path d="M221.6 353.6L248.4 330.6H259.8" fill="none" stroke="#c4157d" stroke-width="1.45"/>
<circle cx="216.2" cy="315.6" r="3.3" fill="#3c98d6" stroke="#fff" stroke-width="1.2"/>
<circle cx="221.6" cy="353.6" r="3.3" fill="#d4127f" stroke="#fff" stroke-width="1.2"/>
<path d="M457 297.6A75 63.9 0 0 0 607 297.6L581 297.6A49 40 0 0 1 483 297.6Z" fill="#231815"/>
<path d="M457 395.8V361.2H463.7L466 366.4L468.3 361.2H473.13L475.43 366.4L477.73 361.2H482.56L484.86 366.4L487.16 361.2H491.99L494.29 366.4L496.59 361.2H501.42L503.72 366.4L506.02 361.2H510.85L513.15 366.4L515.45 361.2H520.28L522.58 366.4L524.88 361.2H529.71L532.01 366.4L534.31 361.2H539.14L541.44 366.4L543.74 361.2H548.57L550.87 366.4L553.17 361.2H558L560.3 366.4L562.6 361.2H567.43L569.73 366.4L572.03 361.2H576.86L579.16 366.4L581.46 361.2H586.29L588.59 366.4L590.89 361.2H595.72L598.02 366.4L600.32 361.2H607V395.8Z" fill="#727171"/>
<rect x="467.8" y="348.6" width="129.8" height="24.2" rx="12.1" fill="none" stroke="#c4157d" stroke-width="1.4"/>
<path d="M639 297.6A75 71 0 0 0 789 297.6L763 297.6A49 40.5 0 0 1 665 297.6Z" fill="#231815"/>
<rect x="683" y="359" width="62" height="7.4" fill="#231815"/>
<path d="M639 395.8V361.2H645.7L648 366.4L650.3 361.2H655.13L657.43 366.4L659.73 361.2H664.56L666.86 366.4L669.16 361.2H673.99L676.29 366.4L678.59 361.2H683.42L685.72 366.4L688.02 361.2H692.85L695.15 366.4L697.45 361.2H702.28L704.58 366.4L706.88 361.2H711.71L714.01 366.4L716.31 361.2H721.14L723.44 366.4L725.74 361.2H730.57L732.87 366.4L735.17 361.2H740L742.3 366.4L744.6 361.2H749.43L751.73 366.4L754.03 361.2H758.86L761.16 366.4L763.46 361.2H768.29L770.59 366.4L772.89 361.2H777.72L780.02 366.4L782.32 361.2H789V395.8Z" fill="#727171"/>
<rect x="652.4" y="348.6" width="128" height="24.2" rx="12.1" fill="none" stroke="#c4157d" stroke-width="1.4"/>
<text x="47.17" y="41.27" font-size="12.3" font-weight="bold" fill="#fff" textLength="306.63" lengthAdjust="spacing">ブロックとサイプのエッジが雪を引っ掻きます</text>
<text x="450.48" y="41.27" font-size="12.3" font-weight="bold" fill="#fff" textLength="286.42" lengthAdjust="spacing">低温でも柔らかいゴムが路面に密着します</text>
<text x="47.75" y="79.81" font-size="9.5" fill="#333333" textLength="165.25" lengthAdjust="spacing">ブロックの角とトレッドに刻まれた</text>
<text x="47.73" y="95.81" font-size="9.5" fill="#333333" textLength="134.87" lengthAdjust="spacing">多くの切り込み（サイプ）が、</text>
<text x="47.96" y="111.81" font-size="9.5" fill="#333333" textLength="149.94" lengthAdjust="spacing">スキーのエッジのように作用し、</text>
<text x="47.67" y="127.81" font-size="9.5" fill="#333333" textLength="163.13" lengthAdjust="spacing">その摩擦抵抗で駆動力や制動力を</text>
<text x="48.2" y="143.81" font-size="9.5" fill="#333333" textLength="100.3" lengthAdjust="spacing">得る効果があります。</text>
<text x="451.06" y="80.11" font-size="9.5" fill="#333333" textLength="150.04" lengthAdjust="spacing">スタッドレスタイヤは、低温でも</text>
<text x="451.12" y="97.01" font-size="9.5" fill="#333333" textLength="121.38" lengthAdjust="spacing">柔軟性を保持することで、</text>
<text x="451.14" y="113.91" font-size="9.5" fill="#333333" textLength="149.96" lengthAdjust="spacing">氷上でも摩擦力（グリップ力）を</text>
<text x="451.21" y="130.81" font-size="9.5" fill="#333333" textLength="58.79" lengthAdjust="spacing">発揮します。</text>
<text x="620.67" y="81.75" font-size="10.4" font-weight="bold" fill="#6894b3" textLength="124.33" lengthAdjust="spacing">温度変化によるゴムの</text>
<text x="619.22" y="95.25" font-size="10.4" font-weight="bold" fill="#6894b3" textLength="98.88" lengthAdjust="spacing">しなやかさの変化</text>
<text x="309.63" y="141.34" font-size="8.8" fill="#333">雪</text>
<text x="296.94" y="161.35" font-size="10.4" font-weight="bold" fill="#c4157d" textLength="89.06" lengthAdjust="spacing">切り込み(サイプ)</text>
<text x="277.16" y="180.45" font-size="10.4" font-weight="bold" fill="#3c98d6" textLength="72.04" lengthAdjust="spacing">ブロックの角</text>
<text x="337.38" y="194.54" font-size="8.8" fill="#333" textLength="53.02" lengthAdjust="spacing">〈イメージ〉</text>
<text x="265.76" y="298.17" font-size="11.5" font-weight="bold" fill="#3c98d6" textLength="80.03" lengthAdjust="spacing">ブロックの角</text>
<text x="264.11" y="334.87" font-size="11.5" font-weight="bold" fill="#c4157d" textLength="108.89" lengthAdjust="spacing">切り込み(サイプ)</text>
<text x="702.89" y="131.93" font-size="9.3" font-weight="bold" fill="#222" textLength="49.91" lengthAdjust="spacing">一般タイヤ</text>
<text transform="translate(696.76 203.81) skewX(-12)" x="0" y="0" font-size="10.3" font-weight="bold" fill="#c4157d" textLength="86.04" lengthAdjust="spacing">スタッドレスタイヤ</text>
<text font-size="8.4" fill="#222"><tspan x="621.7" y="127.23">小</tspan><tspan x="621.7" y="136.91">↑</tspan><tspan x="621.7" y="154.36">し</tspan><tspan x="621.7" y="163.86">な</tspan><tspan x="621.7" y="172.7">や</tspan><tspan x="621.7" y="181.48">か</tspan><tspan x="621.7" y="200.57">↓</tspan><tspan x="621.7" y="211.4">大</tspan></text>
<text x="645.73" y="234.12" font-size="8.2" fill="#555" textLength="21.73" lengthAdjust="spacingAndGlyphs">-20℃</text>
<text x="678.68" y="234.12" font-size="8.2" fill="#555" textLength="13.83" lengthAdjust="spacingAndGlyphs">0℃</text>
<text x="705.65" y="234.12" font-size="8.2" fill="#555" textLength="18.69" lengthAdjust="spacingAndGlyphs">20℃</text>
<text x="734.45" y="234.12" font-size="8.2" fill="#555" textLength="18.69" lengthAdjust="spacingAndGlyphs">40℃</text>
<text x="765.05" y="234.12" font-size="8.2" fill="#555" textLength="18.69" lengthAdjust="spacingAndGlyphs">60℃</text>
<text x="485.89" y="272.29" font-size="10.5" font-weight="bold" fill="#6894b3" textLength="95.01" lengthAdjust="spacing">低温で硬くなった</text>
<text x="486.61" y="286.39" font-size="10.5" font-weight="bold" fill="#6894b3" textLength="94.29" lengthAdjust="spacing">タイヤのイメージ</text>
<text x="664.59" y="272.29" font-size="10.5" font-weight="bold" fill="#6894b3" textLength="96.51" lengthAdjust="spacing">低温でも柔らかい</text>
<text x="633.71" y="286.39" font-size="10.5" font-weight="bold" fill="#6894b3" textLength="162.59" lengthAdjust="spacing">スタッドレスタイヤのイメージ</text>
<text x="465.35" y="390.71" font-size="11.6" font-weight="bold" fill="#fff" stroke="#fff" stroke-width="3.2" stroke-linejoin="round" textLength="137.45" lengthAdjust="spacing">路面の凹凸に密着しにくい！</text>
<text x="465.35" y="390.71" font-size="11.6" font-weight="bold" fill="#d01880" textLength="137.45" lengthAdjust="spacing">路面の凹凸に密着しにくい！</text>
<text x="665.35" y="391.01" font-size="11.6" font-weight="bold" fill="#fff" stroke="#fff" stroke-width="3.2" stroke-linejoin="round" textLength="95.85" lengthAdjust="spacing">路面の凹凸に密着！</text>
<text x="665.35" y="391.01" font-size="11.6" font-weight="bold" fill="#d01880" textLength="95.85" lengthAdjust="spacing">路面の凹凸に密着！</text>
</svg>
<div class="tl">
<span style="left:47.17px;top:30.45px;font-size:12.3px;width:306.63px">ブロックとサイプのエッジが雪を引っ掻きます</span>
<span style="left:450.48px;top:30.45px;font-size:12.3px;width:286.42px">低温でも柔らかいゴムが路面に密着します</span>
<span style="left:47.75px;top:71.45px;font-size:9.5px;width:165.25px">ブロックの角とトレッドに刻まれた</span>
<span style="left:47.73px;top:87.45px;font-size:9.5px;width:134.87px">多くの切り込み（サイプ）が、</span>
<span style="left:47.96px;top:103.45px;font-size:9.5px;width:149.94px">スキーのエッジのように作用し、</span>
<span style="left:47.67px;top:119.45px;font-size:9.5px;width:163.13px">その摩擦抵抗で駆動力や制動力を</span>
<span style="left:48.2px;top:135.45px;font-size:9.5px;width:100.3px">得る効果があります。</span>
<span style="left:451.06px;top:71.75px;font-size:9.5px;width:150.04px">スタッドレスタイヤは、低温でも</span>
<span style="left:451.12px;top:88.65px;font-size:9.5px;width:121.38px">柔軟性を保持することで、</span>
<span style="left:451.14px;top:105.55px;font-size:9.5px;width:149.96px">氷上でも摩擦力（グリップ力）を</span>
<span style="left:451.21px;top:122.45px;font-size:9.5px;width:58.79px">発揮します。</span>
<span style="left:620.67px;top:72.6px;font-size:10.4px;width:124.33px">温度変化によるゴムの</span>
<span style="left:619.22px;top:86.1px;font-size:10.4px;width:98.88px">しなやかさの変化</span>
<span style="left:309.63px;top:133.6px;font-size:8.8px;width:11.36px">雪</span>
<span style="left:296.94px;top:152.2px;font-size:10.4px;width:89.06px">切り込み(サイプ)</span>
<span style="left:277.16px;top:171.3px;font-size:10.4px;width:72.04px">ブロックの角</span>
<span style="left:337.38px;top:186.8px;font-size:8.8px;width:53.02px">〈イメージ〉</span>
<span style="left:265.76px;top:288.05px;font-size:11.5px;width:80.03px">ブロックの角</span>
<span style="left:264.11px;top:324.75px;font-size:11.5px;width:108.89px">切り込み(サイプ)</span>
<span style="left:702.89px;top:123.75px;font-size:9.3px;width:49.91px">一般タイヤ</span>
<span style="left:696.76px;top:194.75px;font-size:10.3px;width:86.04px">スタッドレスタイヤ</span>
<span class="v" style="left:621.7px;top:119.9px;font-size:8.4px;width:8.4px">小↑しなやか↓大</span>
<span style="left:645.73px;top:226.9px;font-size:8.2px;width:21.73px">-20℃</span>
<span style="left:678.68px;top:226.9px;font-size:8.2px;width:13.83px">0℃</span>
<span style="left:705.65px;top:226.9px;font-size:8.2px;width:18.69px">20℃</span>
<span style="left:734.45px;top:226.9px;font-size:8.2px;width:18.69px">40℃</span>
<span style="left:765.05px;top:226.9px;font-size:8.2px;width:18.69px">60℃</span>
<span style="left:485.89px;top:263.05px;font-size:10.5px;width:95.01px">低温で硬くなった</span>
<span style="left:486.61px;top:277.15px;font-size:10.5px;width:94.29px">タイヤのイメージ</span>
<span style="left:664.59px;top:263.05px;font-size:10.5px;width:96.51px">低温でも柔らかい</span>
<span style="left:633.71px;top:277.15px;font-size:10.5px;width:162.59px">スタッドレスタイヤのイメージ</span>
<span style="left:465.35px;top:380.5px;font-size:11.6px;width:137.45px">路面の凹凸に密着しにくい！</span>
<span style="left:665.35px;top:380.8px;font-size:11.6px;width:95.85px">路面の凹凸に密着！</span>
</div>
</div>
</body>
</html>
